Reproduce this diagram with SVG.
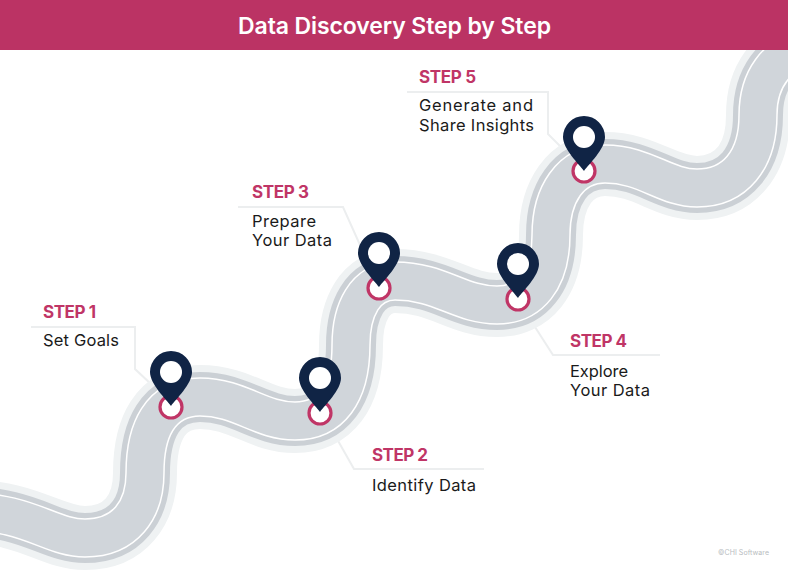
<svg xmlns="http://www.w3.org/2000/svg" xmlns:xlink="http://www.w3.org/1999/xlink" width="788" height="570" viewBox="0 0 788 570">
<style>
.r{fill:none}
.leader{fill:none;stroke:#eceeef;stroke-width:2}
.ring{fill:#fff;stroke:#c03566;stroke-width:3.2}
.pin{fill:#102445}
.hole{fill:#fff}
text{font-family:"Inter","Liberation Sans",sans-serif}
.step{font-size:17px;font-weight:700;fill:#c03566}
.body{font-size:16.5px;fill:#1a1a1a}
</style>
<defs>
<path id="road" d="M-40 511C30 511 50 538 85 538C125 538 145 510 145 473C145 430 160 397 200 397C240 397 260 421 295 421C330 421 351 395 351 345C351 310 365 281 395 281C440 281 460 305 497 305C530 305 551 280 551 235C551 195 570 164 605 164C645 164 665 188 697 188C735 188 758 160 758 115C758 80 775 55 810 45"/>
<path id="marker" d="M0 34C-5 27-21 12-21 0A21 21 0 0 1 21 0C21 12 5 27 0 34Z"/>
</defs>
<rect width="788" height="570" fill="#fff"/>
<g id="connectors">
<path class="leader" d="M31 327H135V369L152 385"/>
<path class="leader" d="M337 439L354 469H484"/>
<path class="leader" d="M238 207H343L360 245"/>
<path class="leader" d="M535 327L553 355H660"/>
<path class="leader" d="M407 92H548V134L562 148"/>
</g>
<g id="road-band" class="r">
<use href="#road" stroke="#eff2f3" stroke-width="64"/>
<use href="#road" stroke="#cbd0d5" stroke-width="50"/>
<use href="#road" stroke="#fff" stroke-width="39.5"/>
<use href="#road" stroke="#d0d5da" stroke-width="36.5"/>
</g>
<rect id="header" width="788" height="50" fill="#bb3364"/>
<text x="394.5" y="33.5" text-anchor="middle" font-size="23" font-weight="600" fill="#fff" textLength="313">Data Discovery Step by Step</text>
<g id="step-1">
<circle class="ring" cx="171" cy="407" r="11"/>
<use href="#marker" class="pin" x="171" y="372"/>
<circle class="hole" cx="171" cy="372" r="11"/>
<text class="step" x="43" y="318" textLength="53">STEP 1</text>
<text class="body" x="43" y="346" textLength="76">Set Goals</text>
</g>
<g id="step-2">
<circle class="ring" cx="320" cy="413" r="11"/>
<use href="#marker" class="pin" x="320" y="378"/>
<circle class="hole" cx="320" cy="378" r="11"/>
<text class="step" x="372" y="461" textLength="56">STEP 2</text>
<text class="body" x="372" y="491" textLength="104">Identify Data</text>
</g>
<g id="step-3">
<circle class="ring" cx="379" cy="288" r="11"/>
<use href="#marker" class="pin" x="379" y="253"/>
<circle class="hole" cx="379" cy="253" r="11"/>
<text class="step" x="252" y="198" textLength="57">STEP 3</text>
<text class="body" x="252" y="227" textLength="64">Prepare</text>
<text class="body" x="252" y="246" textLength="80">Your Data</text>
</g>
<g id="step-4">
<circle class="ring" cx="518" cy="299" r="11"/>
<use href="#marker" class="pin" x="518" y="264"/>
<circle class="hole" cx="518" cy="264" r="11"/>
<text class="step" x="570" y="347" textLength="57">STEP 4</text>
<text class="body" x="570" y="377" textLength="58">Explore</text>
<text class="body" x="570" y="396" textLength="80">Your Data</text>
</g>
<g id="step-5">
<circle class="ring" cx="584" cy="171" r="11"/>
<use href="#marker" class="pin" x="584" y="137"/>
<circle class="hole" cx="584" cy="137" r="11"/>
<text class="step" x="419" y="83" textLength="57">STEP 5</text>
<text class="body" x="419" y="111" textLength="114">Generate and</text>
<text class="body" x="419" y="131" textLength="115">Share Insights</text>
</g>
<text x="718" y="555" font-size="7" fill="#b8bcc0" textLength="51">©CHI Software</text>
</svg>
